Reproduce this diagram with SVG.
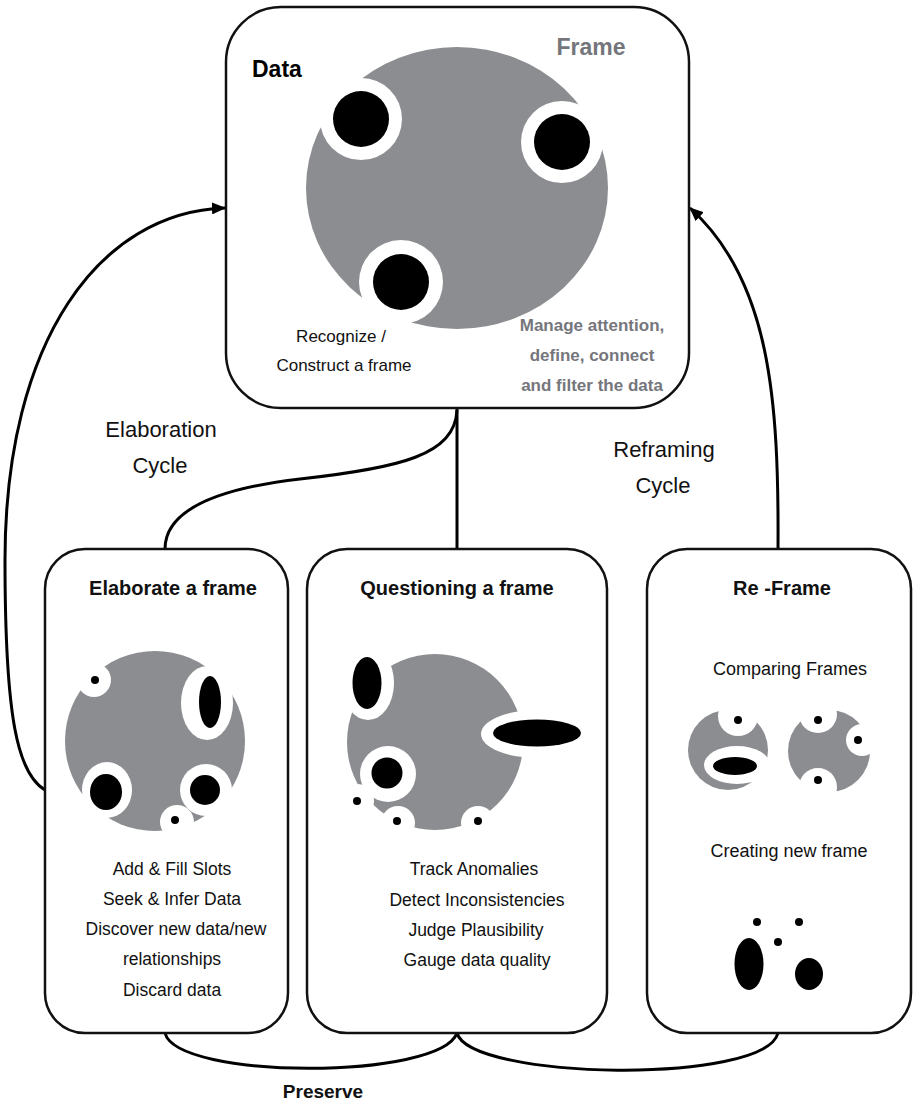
<svg xmlns="http://www.w3.org/2000/svg" width="914" height="1103" viewBox="0 0 914 1103">
<style>
text{font-family:"Liberation Sans",Arial,Helvetica,sans-serif;}
.box{fill:#fff;stroke:#111;stroke-width:2.5;}
.conn{fill:none;stroke:#000;stroke-width:3;}
.g{fill:#8b8d91;}
.w{fill:#fff;}
.k{fill:#000;}
.t{font-size:17.5px;fill:#111;text-anchor:middle;}
.h{font-size:20px;font-weight:bold;fill:#111;text-anchor:middle;}
.lab{font-size:22px;fill:#111;text-anchor:middle;}
.gt{font-size:17px;font-weight:bold;fill:#75767c;text-anchor:middle;}
</style>
<defs>
<marker id="ah" markerUnits="userSpaceOnUse" markerWidth="14" markerHeight="12" refX="13" refY="6" orient="auto">
<path d="M0,0 L14,6 L0,12 z" fill="#000"/>
</marker>
</defs>
<g id="connectors">
<path class="conn" d="M457,408 L457,550"/>
<path class="conn" d="M457,410 C455,455 400,468 300,479 C205,490 165,515 165,549"/>
<path class="conn" d="M45,790 C18,774 5,720 5,560 C5,340 100,212 225,208" marker-end="url(#ah)"/>
<path class="conn" d="M778,549 C779,400 770,280 690,208" marker-end="url(#ah)"/>
<path class="conn" d="M165,1033 C177,1080 440,1080 457,1033"/>
<path class="conn" d="M457,1033 C470,1080 765,1085 778,1033"/>
</g>
<g id="node-top">
<rect class="box" x="226" y="7" width="463" height="401" rx="55" ry="55"/>
<ellipse class="g" cx="457" cy="188" rx="151" ry="141"/>
<circle class="w" cx="361" cy="119" r="41"/>
<circle class="k" cx="361" cy="119" r="28"/>
<circle class="w" cx="562" cy="142" r="41"/>
<circle class="k" cx="562" cy="142" r="28"/>
<circle class="w" cx="401" cy="282" r="42"/>
<circle class="k" cx="401" cy="282" r="28"/>
<text x="252" y="77" style="font-size:23px;font-weight:bold;fill:#000">Data</text>
<text x="591" y="55" style="font-size:23px;font-weight:bold;fill:#75767c;text-anchor:middle">Frame</text>
<text class="t" x="341" y="342" style="font-size:17px">Recognize /</text>
<text class="t" x="344" y="371" style="font-size:17px">Construct a frame</text>
<text class="gt" x="592" y="331">Manage attention,</text>
<text class="gt" x="592" y="361">define, connect</text>
<text class="gt" x="592" y="391">and filter the data</text>
</g>
<g id="label-elaboration">
<text class="lab" x="161" y="437">Elaboration</text>
<text class="lab" x="160" y="473">Cycle</text>
</g>
<g id="label-reframing">
<text class="lab" x="664" y="457">Reframing</text>
<text class="lab" x="663" y="493">Cycle</text>
</g>
<g id="node-elaborate">
<rect class="box" x="45" y="549" width="243" height="484" rx="40" ry="40"/>
<circle class="g" cx="155" cy="741" r="90"/>
<circle class="w" cx="94" cy="680" r="17"/>
<circle class="k" cx="95" cy="680" r="4"/>
<ellipse class="w" cx="207" cy="703" rx="26" ry="37"/>
<ellipse class="k" cx="210" cy="702" rx="11" ry="26"/>
<ellipse class="w" cx="107" cy="790" rx="25" ry="28"/>
<ellipse class="k" cx="106" cy="792" rx="16" ry="18"/>
<circle class="w" cx="206" cy="790" r="26"/>
<circle class="k" cx="205" cy="790" r="15"/>
<circle class="w" cx="177" cy="822" r="17"/>
<circle class="k" cx="175" cy="820" r="4"/>
<text class="h" x="173" y="595">Elaborate a frame</text>
<text class="t" x="172" y="875">Add &amp; Fill Slots</text>
<text class="t" x="172" y="905">Seek &amp; Infer Data</text>
<text class="t" x="176" y="935">Discover new data/new</text>
<text class="t" x="172" y="965">relationships</text>
<text class="t" x="172" y="996">Discard data</text>
</g>
<g id="node-questioning">
<rect class="box" x="307" y="549" width="300" height="484" rx="40" ry="40"/>
<circle class="g" cx="435" cy="742" r="88"/>
<ellipse class="w" cx="368" cy="683" rx="26" ry="37"/>
<ellipse class="k" cx="367" cy="683" rx="14.5" ry="26"/>
<ellipse class="w" cx="538" cy="734" rx="57" ry="24"/>
<ellipse class="k" cx="537" cy="733" rx="44" ry="13.5"/>
<circle class="w" cx="388" cy="774" r="28"/>
<circle class="k" cx="387" cy="773" r="15.5"/>
<circle class="w" cx="357" cy="801" r="17"/>
<circle class="k" cx="357" cy="801" r="4"/>
<circle class="w" cx="398" cy="823" r="17"/>
<circle class="k" cx="397" cy="821" r="4"/>
<circle class="w" cx="478" cy="823" r="17"/>
<circle class="k" cx="478" cy="821" r="4"/>
<text class="h" x="457" y="595">Questioning a frame</text>
<text class="t" x="474" y="875">Track Anomalies</text>
<text class="t" x="477" y="906">Detect Inconsistencies</text>
<text class="t" x="476" y="936">Judge Plausibility</text>
<text class="t" x="477" y="966">Gauge data quality</text>
</g>
<g id="node-reframe">
<rect class="box" x="647" y="549" width="264" height="484" rx="40" ry="40"/>
<text class="h" x="782" y="595">Re -Frame</text>
<text class="t" x="790" y="675" style="font-size:18px">Comparing Frames</text>
<circle class="g" cx="728" cy="750" r="40"/>
<circle class="w" cx="738" cy="716" r="20"/>
<circle class="k" cx="738" cy="720" r="4"/>
<ellipse class="w" cx="737" cy="765" rx="33" ry="19"/>
<ellipse class="k" cx="735" cy="766" rx="22" ry="9"/>
<circle class="g" cx="829" cy="751" r="41"/>
<circle class="w" cx="818" cy="714" r="19"/>
<circle class="k" cx="818" cy="720" r="4"/>
<circle class="w" cx="862" cy="740" r="16"/>
<circle class="k" cx="858" cy="740" r="4"/>
<circle class="w" cx="818" cy="787" r="19"/>
<circle class="k" cx="818" cy="780" r="4"/>
<text class="t" x="789" y="857" style="font-size:18px">Creating new frame</text>
<circle class="k" cx="757" cy="922" r="4"/>
<circle class="k" cx="799" cy="922" r="4"/>
<circle class="k" cx="778" cy="942" r="4"/>
<ellipse class="k" cx="749" cy="964" rx="14.5" ry="26"/>
<ellipse class="k" cx="809" cy="974" rx="14" ry="16"/>
</g>
<g id="label-preserve">
<text x="323" y="1098" style="font-size:19px;font-weight:bold;fill:#111;text-anchor:middle">Preserve</text>
</g>
</svg>
